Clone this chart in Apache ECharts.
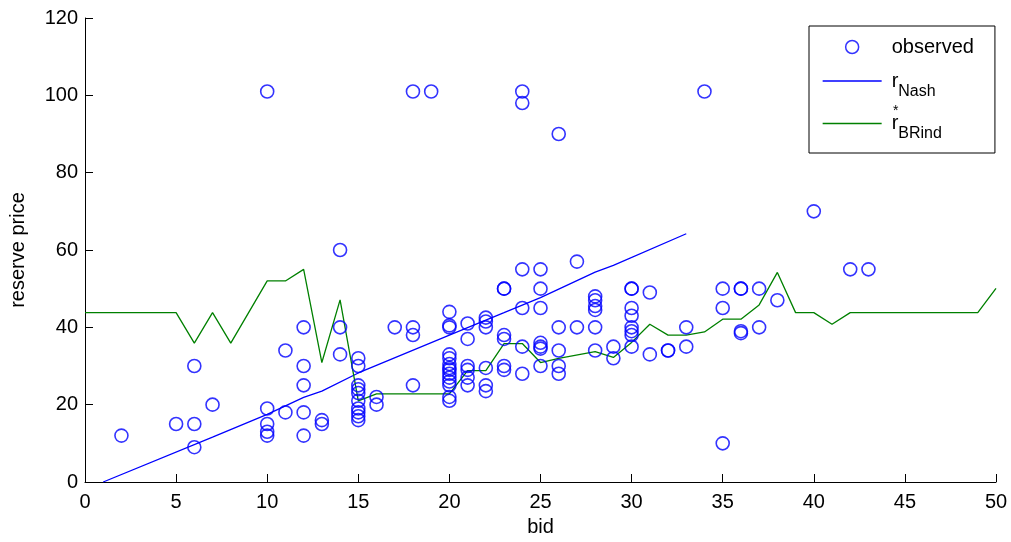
<!DOCTYPE html>
<html><head><meta charset="utf-8">
<script src="https://cdn.jsdelivr.net/npm/echarts@6/dist/echarts.min.js"></script>
<style>html,body{margin:0;padding:0;background:#fff}#c{width:1011px;height:542px}</style>
</head><body><div id="c"></div>
<script>
// observed (bid, reserve price)
const obsBid = [
  2, 5, 6, 6, 6, 7,
  10, 10, 10, 10, 10, 11, 11,
  12, 12, 12, 12, 12, 13, 13,
  14, 14, 14,
  15, 15, 15, 15, 15, 15, 15, 15, 15, 15,
  16, 16, 17, 18, 18, 18, 18, 19,
  20, 20, 20, 20, 20, 20, 20, 20, 20, 20, 20, 20, 20, 20,
  21, 21, 21, 21, 21, 21,
  22, 22, 22, 22, 22, 22,
  23, 23, 23, 23, 23, 23,
  24, 24, 24, 24, 24, 24,
  25, 25, 25, 25, 25, 25, 25,
  26, 26, 26, 26, 26,
  27, 27,
  28, 28, 28, 28, 28, 28,
  29, 29,
  30, 30, 30, 30, 30, 30, 30, 30,
  31, 31, 32, 32, 33, 33, 34,
  35, 35, 35, 36, 36, 36, 36, 37, 37, 38, 40, 42, 43
];
const obsPrice = [
  12, 15, 15, 9, 30, 20,
  101, 19, 15, 13, 12, 34, 18,
  40, 30, 25, 18, 12, 16, 15,
  60, 40, 33,
  32, 30, 25, 24, 23, 21, 19, 18, 17, 16,
  22, 20, 40, 101, 40, 38, 25, 101,
  44, 40.5, 40, 33, 32, 30.5, 29.5, 29, 28, 27, 26, 25, 22, 21,
  41, 37, 30, 29, 27, 25,
  42.5, 41.5, 40, 29.5, 25, 23.5,
  50, 50, 38, 37, 30, 29,
  101, 98, 55, 45, 35, 28,
  55, 50, 45, 36, 35, 34.5, 30,
  90, 40, 34, 30, 28,
  57, 40,
  48, 47, 45.5, 44.5, 40, 34,
  35, 32,
  50, 50, 45, 43, 40, 39, 38, 35,
  49, 33, 34, 34, 40, 35, 101,
  50, 45, 10, 50, 50, 39, 38.5, 50, 40, 47, 70, 55, 55
];
// r_Nash curve
const nashBid   = [1, 7, 10, 12, 13, 15, 20, 23, 25, 28, 29, 33];
const nashPrice = [0, 11.6, 17.5, 21.9, 23.5, 28.2, 38, 43.8, 47.7, 54.3, 56, 64.2];
// r*_BRind curve
const brBid   = [0, 5, 6, 7, 8, 10, 11, 12, 13, 14, 15, 16, 20, 21, 22, 23, 24, 25, 26, 28, 29, 30, 31, 32, 33, 34, 35, 36, 37, 38, 39, 40, 41, 42, 49, 50];
const brPrice = [43.8, 43.8, 35.9, 43.8, 35.9, 52, 52, 55, 30.9, 47.1, 21, 22.8, 22.8, 28.8, 28.8, 35.8, 35.8, 30.9, 32, 33.7, 32.2, 36.1, 40.8, 38, 38, 38.8, 42.1, 42.1, 45.8, 54.2, 43.8, 43.8, 40.8, 43.8, 43.8, 50.1];
// axis ticks
const xTicks = { min: 0, max: 50, interval: 5 };
const yTicks = { min: 0, max: 120, interval: 20 };

const zip = (a, b) => a.map((v, i) => [v, b[i]]);
const FONT = 'Liberation Sans, Arial, Helvetica, sans-serif';
const BLUE = '#0000ff', GREEN = '#008000';
const hiddenSymbol = { color: 'rgba(0,0,0,0)', borderColor: 'rgba(0,0,0,0)', borderWidth: 0, opacity: 0 };

const chart = echarts.init(document.getElementById('c'), null, { renderer: 'canvas' });
chart.setOption({
  animation: false,
  backgroundColor: '#fff',
  textStyle: { fontFamily: FONT },
  grid: { left: 81, right: 15, top: 18, bottom: 59 },
  xAxis: {
    type: 'value', min: xTicks.min, max: xTicks.max, interval: xTicks.interval,
    name: 'bid', nameLocation: 'middle', nameGap: 35,
    nameTextStyle: { color: '#000', fontSize: 20, fontFamily: FONT },
    axisLine: { show: true, onZero: false, lineStyle: { color: '#000', width: 1 } },
    axisTick: { show: true, inside: true, length: 8, lineStyle: { color: '#000' } },
    axisLabel: { color: '#000', fontSize: 20, fontFamily: FONT, margin: 10 },
    splitLine: { show: false }
  },
  yAxis: {
    type: 'value', min: yTicks.min, max: yTicks.max, interval: yTicks.interval,
    name: 'reserve price', nameLocation: 'middle', nameGap: 57,
    nameTextStyle: { color: '#000', fontSize: 20, fontFamily: FONT },
    axisLine: { show: true, onZero: false, lineStyle: { color: '#000', width: 1 } },
    axisTick: { show: true, inside: true, length: 8, lineStyle: { color: '#000' } },
    axisLabel: { color: '#000', fontSize: 20, fontFamily: FONT, margin: 7 },
    splitLine: { show: false }
  },
  legend: {
    orient: 'vertical', left: 809, top: 26,
    padding: [11, 21, 11, 13], itemGap: 14,
    itemWidth: 59, itemHeight: 13,
    borderColor: '#000', borderWidth: 1, backgroundColor: '#fff',
    selectedMode: false,
    data: [
      { name: 'observed', icon: 'circle', itemStyle: { color: 'rgba(0,0,0,0)', borderColor: BLUE, borderWidth: 1.5 } },
      { name: 'rNash', itemStyle: hiddenSymbol, lineStyle: { color: BLUE, width: 1.3 } },
      { name: 'rBRind', itemStyle: hiddenSymbol, lineStyle: { color: GREEN, width: 1.3 } }
    ],
    formatter: function (n) {
      if (n === 'observed') return '{o|observed}';
      if (n === 'rNash') return '{r|r}{s|Nash}';
      return '{r|r}{s|BRind}';
    },
    textStyle: {
      color: '#000', fontFamily: FONT, fontSize: 20,
      rich: {
        o: { fontSize: 20, fontFamily: FONT, color: '#000', padding: [0, 0, 0, 5] },
        r: { fontSize: 20, fontFamily: FONT, color: '#000', padding: [0, 0, 0, 5] },
        s: { fontSize: 16, fontFamily: FONT, color: '#000', padding: [21, 0, 0, 0] }
      }
    }
  },
  graphic: [
    { type: 'text', left: 893, top: 104, z: 100,
      style: { text: '*', fontSize: 14, fontFamily: FONT, fill: '#000' } }
  ],
  series: [
    {
      name: 'observed', type: 'scatter', symbol: 'circle', symbolSize: 13,
      data: zip(obsBid, obsPrice),
      itemStyle: { color: 'rgba(0,0,0,0)', borderColor: BLUE, borderWidth: 1.6 },
      emphasis: { disabled: true }, z: 3
    },
    {
      name: 'rNash', type: 'line', data: zip(nashBid, nashPrice),
      symbol: 'none', showSymbol: false, color: BLUE,
      lineStyle: { color: BLUE, width: 1.3 }, emphasis: { disabled: true }, z: 2
    },
    {
      name: 'rBRind', type: 'line', data: zip(brBid, brPrice),
      symbol: 'none', showSymbol: false, color: GREEN,
      lineStyle: { color: GREEN, width: 1.3 }, emphasis: { disabled: true }, z: 2
    }
  ]
});
</script>
</body></html>
